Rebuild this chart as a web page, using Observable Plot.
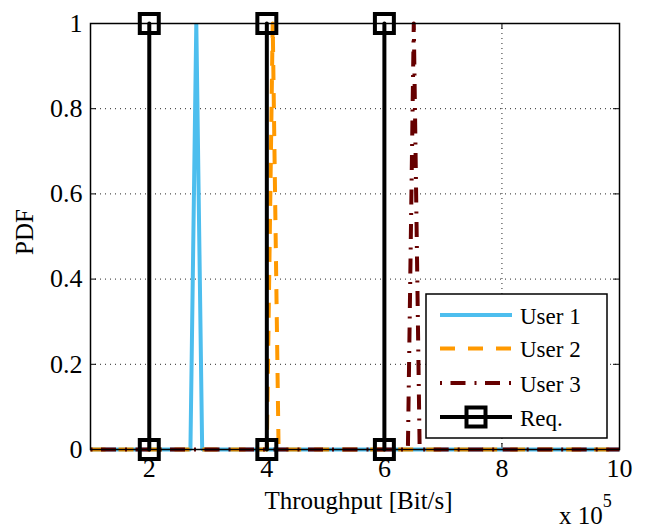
<!DOCTYPE html>
<html><head><meta charset="utf-8">
<script src="https://cdn.jsdelivr.net/npm/d3@7"></script>
<script src="https://cdn.jsdelivr.net/npm/@observablehq/plot@0.6"></script>
<style>
body{margin:0;background:#fff}
svg{display:block}
#chart svg text{font-family:"Liberation Serif","Times New Roman",serif !important;}
</style>
</head><body><div id="chart"></div>
<script>
// ---- data ----
const seriesNames = ["User 1", "User 2", "User 3", "Req."];
const seriesColors = ["#4dbeee", "#ff9900", "#660000", "#000000"];
const user1X = [1, 2.7, 2.8, 2.9, 10];
const user1Pdf = [0, 0, 1, 0, 0];
const user2X = [1, 4.0, 4.1, 4.2, 10];
const user2Pdf = [0, 0, 1, 0, 0];
const user3X = [1, 6.4, 6.5, 6.6, 10];
const user3Pdf = [0, 0, 1, 0, 0];
const reqX = [2, 4, 6];
const reqPdf = [0, 1];
const xTicks = [2, 4, 6, 8, 10];
const yTicks = [0, 0.2, 0.4, 0.6, 0.8, 1];
const xGridTicks = [2, 4, 6, 8];
const yGridTicks = [0.2, 0.4, 0.6, 0.8];
const xLabel = "Throughput [Bit/s]";
const yLabel = "PDF";

// ---- build tables ----
const toRows = (xs, ys) => xs.map((x, i) => ({x, y: ys[i]}));
const u1 = toRows(user1X, user1Pdf);
const u2 = toRows(user2X, user2Pdf);
const u3 = toRows(user3X, user3Pdf);
const req = reqX.flatMap(x => reqPdf.map(y => ({x, y, g: x})));

const W = 648, H = 529;
const mL = 90, mR = 29, mT = 23, mB = 80;
const plotW = W - mL - mR, plotH = H - mT - mB;
const FONT = "Liberation Serif";
const tickLen = 6;

const dashOrange = "15,13";
const dashDot = "2,8.5,15,9";

const chart = Plot.plot({
  width: W, height: H,
  marginLeft: mL, marginRight: mR, marginTop: mT, marginBottom: mB,
  style: {fontFamily: FONT, fontSize: "26px", color: "#000", background: "#fff"},
  x: {domain: [1, 10]},
  y: {domain: [0, 1]},
  marks: [
    Plot.ruleX(xGridTicks, {x: d => d, stroke: "#000", strokeWidth: 1, strokeDasharray: "1,4", strokeOpacity: 0.85}),
    Plot.ruleY(yGridTicks, {y: d => d, stroke: "#000", strokeWidth: 1, strokeDasharray: "1,4", strokeOpacity: 0.85}),
    Plot.tickX(xTicks, {x: d => d, insetTop: plotH - tickLen, stroke: "#000", strokeWidth: 1}),
    Plot.tickX(xTicks, {x: d => d, insetBottom: plotH - tickLen, stroke: "#000", strokeWidth: 1}),
    Plot.tickY(yTicks, {y: d => d, insetRight: plotW - tickLen, stroke: "#000", strokeWidth: 1}),
    Plot.tickY(yTicks, {y: d => d, insetLeft: plotW - tickLen, stroke: "#000", strokeWidth: 1}),
    Plot.axisX(xTicks, {tickSize: 0, tickPadding: 9, fontSize: 26, label: null}),
    Plot.axisY(yTicks, {tickSize: 0, tickPadding: 8, fontSize: 26, label: null, tickFormat: d => String(d)}),
    Plot.line(u1, {x: "x", y: "y", stroke: seriesColors[0], strokeWidth: 4, strokeLinejoin: "miter", strokeLinecap: "butt"}),
    Plot.line(u2, {x: "x", y: "y", stroke: seriesColors[1], strokeWidth: 4, strokeDasharray: dashOrange, strokeLinecap: "butt"}),
    Plot.line(u3, {x: "x", y: "y", stroke: seriesColors[2], strokeWidth: 4, strokeDasharray: dashDot, strokeLinecap: "butt"}),
    Plot.line(req, {x: "x", y: "y", z: "g", stroke: seriesColors[3], strokeWidth: 4}),
    Plot.dot(req, {x: "x", y: "y", symbol: "square", r: 10.7, stroke: seriesColors[3], strokeWidth: 4, fill: "none"}),
    Plot.frame({stroke: "#000", strokeWidth: 1.5})
  ]
});
document.getElementById("chart").append(chart);

// ---- extra text and legend ----
const svg = d3.select(chart);
svg.selectAll("text").attr("font-size", 26).attr("font-family", FONT);
const xs = chart.scale("x"), ys = chart.scale("y");
const xr = xs.range, yr = ys.range;
const cx = (xr[0] + xr[1]) / 2;
svg.append("text").attr("x", cx + 4).attr("y", yr[0] + 60)
  .attr("text-anchor", "middle").attr("font-size", 25).attr("fill", "#000")
  .text(xLabel);
svg.append("text").attr("transform", `translate(33,${(yr[0] + yr[1]) / 2 - 4}) rotate(-90)`)
  .attr("text-anchor", "middle").attr("font-size", 25).attr("fill", "#000")
  .text(yLabel);
const ex = svg.append("text").attr("x", xr[1] - 60).attr("y", H - 5)
  .attr("text-anchor", "start").attr("font-size", 25).attr("fill", "#000");
ex.append("tspan").text("x 10");
ex.append("tspan").attr("font-size", 18).attr("dy", -17).text("5");

// legend
const lg = svg.append("g");
lg.append("rect").attr("x", 426).attr("y", 294).attr("width", 181).attr("height", 144)
  .attr("fill", "#fff").attr("stroke", "#000").attr("stroke-width", 1.5);
const rowY = [315, 348.5, 383, 417];
const dashes = [null, dashOrange, dashDot, null];
seriesNames.forEach((name, i) => {
  const y = rowY[i];
  const ln = lg.append("line").attr("x1", 440).attr("x2", 512).attr("y1", y).attr("y2", y)
    .attr("stroke", seriesColors[i]).attr("stroke-width", 4);
  if (dashes[i]) ln.attr("stroke-dasharray", dashes[i]);
  if (i === 3) {
    lg.append("rect").attr("x", 476 - 9.5).attr("y", y - 9.5).attr("width", 19).attr("height", 19)
      .attr("fill", "none").attr("stroke", "#000").attr("stroke-width", 4);
  }
  lg.append("text").attr("x", 520).attr("y", y + 8.5).attr("text-anchor", "start")
    .attr("font-size", 23).attr("fill", "#000").text(name);
});
</script>
</body></html>
